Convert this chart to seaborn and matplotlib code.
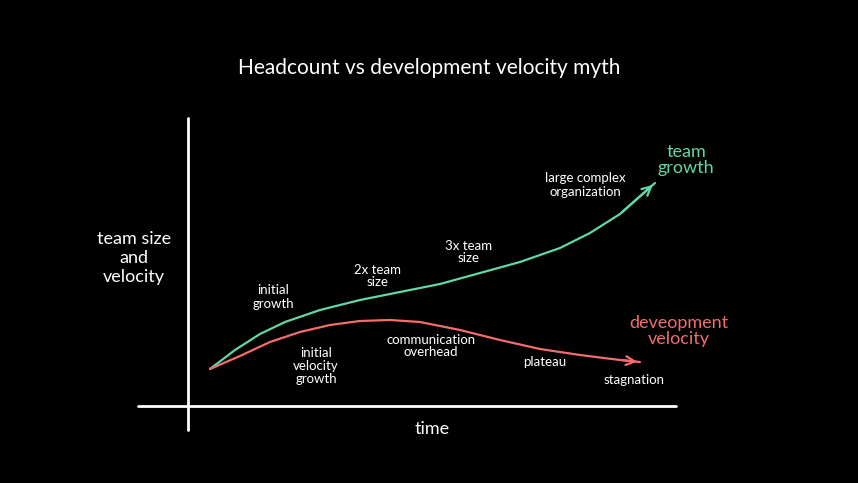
import matplotlib
matplotlib.use("Agg")
import matplotlib.pyplot as plt
import seaborn as sns
import pandas as pd

sns.set_theme(style="dark")
plt.rcParams['font.family'] = ['Lato', 'DejaVu Sans']

# curve data (time, value) in chart units
team_time = [210, 235, 260, 285, 320, 360, 400, 440, 480, 520, 560, 590, 620, 655]
team_vals = [369, 350, 334, 322, 310, 300, 292, 284, 273, 262, 248, 233, 214, 183]
vel_time = [210, 240, 270, 300, 330, 360, 390, 420, 460, 500, 540, 580, 620, 640]
vel_vals = [369, 356, 342, 332, 325, 321, 320, 322, 330, 340, 349, 355, 360, 362]

GREEN = "#63d6a5"
RED = "#f26d6d"

fig = plt.figure(figsize=(8.58, 4.83), dpi=100, facecolor="black")
ax = fig.add_axes([0, 0, 1, 1])
ax.set_facecolor("black")
ax.set_xlim(0, 858)
ax.set_ylim(483, 0)
ax.axis("off")

sns.lineplot(x=team_time, y=team_vals, color=GREEN, lw=1.6, ax=ax, sort=False)
sns.lineplot(x=vel_time, y=vel_vals, color=RED, lw=1.6, ax=ax, sort=False)
ax.annotate("", xy=(team_time[-1], team_vals[-1]), xytext=(team_time[-2], team_vals[-2]),
            arrowprops=dict(arrowstyle="->", color=GREEN, lw=1.6, mutation_scale=16))
ax.annotate("", xy=(vel_time[-1], vel_vals[-1]), xytext=(vel_time[-2], vel_vals[-2]),
            arrowprops=dict(arrowstyle="->", color=RED, lw=1.6, mutation_scale=16))

# axes lines
ax.plot([188, 188], [118, 430], color="white", lw=2)
ax.plot([138, 676], [406, 406], color="white", lw=2)

W = "white"
ax.text(429, 68, "Headcount vs development velocity myth", color=W, fontsize=15, ha="center", va="center")
ax.text(134, 258, "team size\nand\nvelocity", color=W, fontsize=13, ha="center", va="center", linespacing=1.2)
ax.text(432, 429, "time", color=W, fontsize=13, ha="center", va="center")
ax.text(686, 160, "team\ngrowth", color=GREEN, fontsize=13, ha="center", va="center", linespacing=1.0)
ax.text(679, 331, "deveopment\nvelocity", color=RED, fontsize=13, ha="center", va="center", linespacing=1.0)
small = [
    (585, 185, "large complex\norganization"),
    (469, 252, "3x team\nsize"),
    (378, 276, "2x team\nsize"),
    (273, 297, "initial\ngrowth"),
    (316, 366, "initial\nvelocity\ngrowth"),
    (431, 346, "communication\noverhead"),
    (545, 362, "plateau"),
    (634, 380, "stagnation"),
]
for x, y, t in small:
    ax.text(x, y, t, color=W, fontsize=9.5, ha="center", va="center", linespacing=1.1)

fig.savefig("out.png", dpi=100, facecolor="black")
